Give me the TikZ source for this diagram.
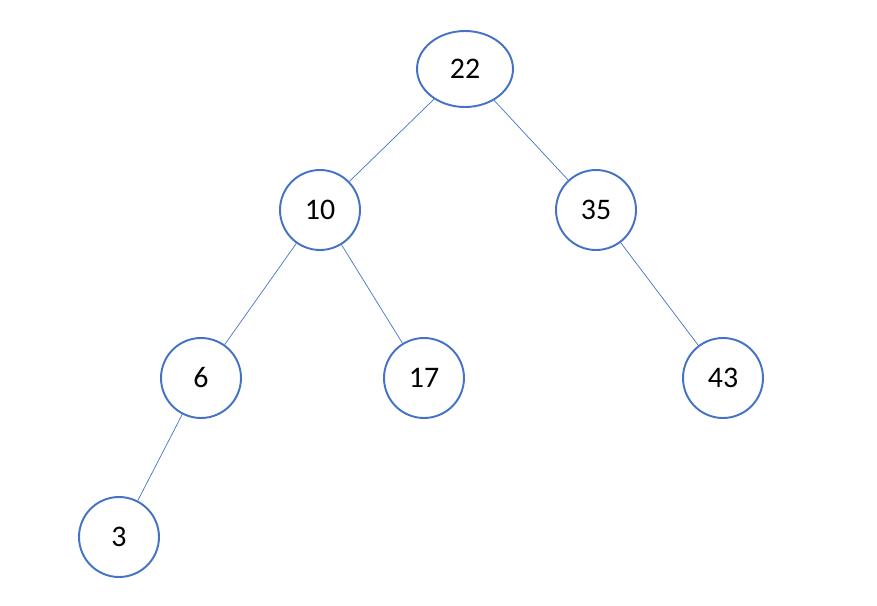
\documentclass[tikz,border=0pt]{standalone}
\usepackage{fontspec}
\setmainfont{Carlito}
\usetikzlibrary{positioning,shapes.geometric}
\definecolor{nodeblue}{HTML}{4472C4}
\tikzset{
    x=0.02cm,
    y=-0.02cm,
    treenode/.style = {
        draw=nodeblue,
        shape=circle,
        minimum size=1.6cm,
        line width=1.1pt,
        font=\fontsize{17}{20}\selectfont
    },
    rootnode/.style = {
        treenode,
        shape=ellipse,
        minimum width=1.92cm,
        minimum height=1.52cm
    },
    edge/.style = {
        draw=nodeblue,
        line width=0.4pt
    }
}
\begin{document}
\begin{tikzpicture}
            \useasboundingbox (0,0) rectangle (877,606);
            \node[rootnode] (n22) at (465,69) {22};
            \node[treenode] (n10) at (320,210) {10};
            \node[treenode] (n35) at (596,210) {35};
            \node[treenode] (n6) at (201,378) {6};
            \node[treenode] (n17) at (424,378) {17};
            \node[treenode] (n43) at (723,378) {43};
            \node[treenode] (n3) at (119,537) {3};

            \path[edge] (n22) -- (n10);
            \path[edge] (n22) -- (n35);
            \path[edge] (n10) -- (n6);
            \path[edge] (n10) -- (n17);
            \path[edge] (n35) -- (n43);
            \path[edge] (n6) -- (n3);
        \end{tikzpicture}
\end{document}
